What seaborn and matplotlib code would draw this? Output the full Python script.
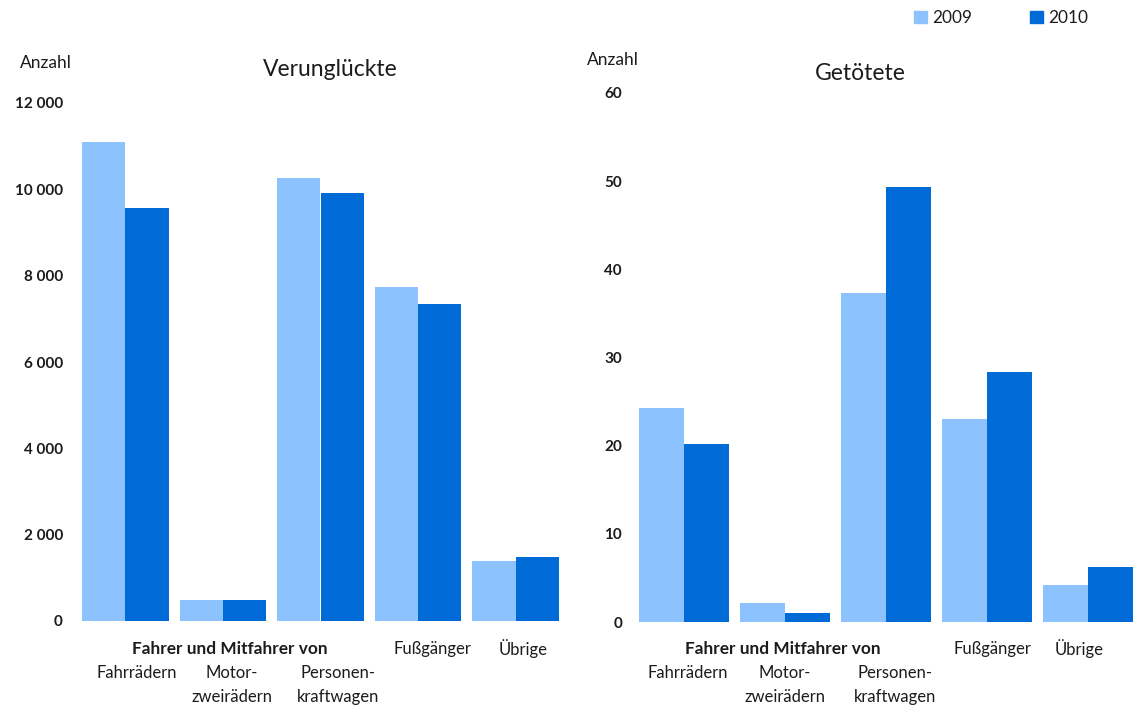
import pandas as pd
import seaborn as sns
import matplotlib.pyplot as plt
import matplotlib.transforms as mtransforms
from matplotlib.ticker import FuncFormatter

## chart values
categories = ["Fahrrädern", "Motorzweirädern", "Personenkraftwagen", "Fußgänger", "Übrige"]
years = ["2009", "2010"]
verunglueckte_2009 = [11100, 490, 10260, 7740, 1390]
verunglueckte_2010 = [9570, 490, 9910, 7340, 1480]
getoetete_2009 = [24.3, 2.1, 37.3, 23.0, 4.2]
getoetete_2010 = [20.2, 1.0, 49.3, 28.4, 6.2]


def long_form(v2009, v2010):
    df = pd.DataFrame({"Kategorie": categories, "2009": v2009, "2010": v2010})
    return df.melt(id_vars="Kategorie", var_name="Jahr", value_name="Anzahl")


verung_df = long_form(verunglueckte_2009, verunglueckte_2010)
getoet_df = long_form(getoetete_2009, getoetete_2010)

sns.set_theme(style="white")
plt.rcParams["font.family"] = ["Lato", "DejaVu Sans"]
palette = {"2009": "#8CC3FF", "2010": "#006AD7"}
txt = "#1c1c1c"

W, H = 1136, 708
fig = plt.figure(figsize=(W / 100, H / 100), dpi=100)


def px_axes(x0, x1, y_top, y_bot):
    return fig.add_axes([x0 / W, 1 - y_bot / H, (x1 - x0) / W, (y_bot - y_top) / H])


ax1 = px_axes(82, 559, 103, 621)
ax2 = px_axes(639, 1133, 93, 622)

# label x positions (group index + small shift) per panel
left_pos = {"head": 1.07, "fuss": 3.15, "ueb": 4.08, "rad": 0.12, "mot": 1.09, "pkw": 2.18}
right_pos = {"head": 0.98, "fuss": 3.05, "ueb": 3.91, "rad": 0.04, "mot": 1.0, "pkw": 2.09}

panels = [
    (ax1, verung_df, 12000, 2000, 19, "Verunglückte", 330, 70, 20, 63, left_pos),
    (ax2, getoet_df, 60, 10, 17, "Getötete", 860, 73, 587, 60, right_pos),
]

for ax, df, ymax, step, pad, title, tx, ty, ax_x, ax_y, lp in panels:
    sns.barplot(
        data=df, x="Kategorie", y="Anzahl", hue="Jahr", hue_order=years,
        palette=palette, width=0.89, gap=0, linewidth=0, saturation=1,
        ax=ax, legend=True,
    )
    ax.set_xlim(-0.445, 4.445)
    ax.set_ylim(0, ymax)
    ax.set_yticks(range(0, ymax + 1, step))
    ax.yaxis.set_major_formatter(FuncFormatter(lambda v, p: f"{v:,.0f}".replace(",", " ")))
    ax.tick_params(axis="y", length=0, pad=pad * 0.72, labelsize=11, labelcolor=txt)
    for lab in ax.get_yticklabels():
        lab.set_fontweight("bold")
    ax.set_xticks([])
    ax.set_xlabel("")
    ax.set_ylabel("")
    for s in ax.spines.values():
        s.set_visible(False)
    ax.get_legend().remove()

    fig.text(tx / W, 1 - ty / H, title, ha="center", va="center", fontsize=16.5, color=txt)
    fig.text(ax_x / W, 1 - ax_y / H, "Anzahl", ha="left", va="center", fontsize=12.5, color=txt)

    # category labels below the bars
    tr = mtransforms.blended_transform_factory(ax.transData, fig.transFigure)
    y1 = 1 - 649 / H
    y2 = 1 - 673 / H
    y3 = 1 - 697 / H
    kw = dict(transform=tr, ha="center", va="center", color=txt)
    ax.text(lp["head"], y1, "Fahrer und Mitfahrer von", fontsize=12.4, fontweight="bold", **kw)
    ax.text(lp["fuss"], y1, "Fußgänger", fontsize=12, **kw)
    ax.text(lp["ueb"], y1, "Übrige", fontsize=12, **kw)
    ax.text(lp["rad"], y2, "Fahrrädern", fontsize=12, **kw)
    ax.text(lp["mot"], y2, "Motor-", fontsize=12, **kw)
    ax.text(lp["mot"], y3, "zweirädern", fontsize=12, **kw)
    ax.text(lp["pkw"], y2, "Personen-", fontsize=12, **kw)
    ax.text(lp["pkw"], y3, "kraftwagen", fontsize=12, **kw)

handles = [plt.Rectangle((0, 0), 1, 1, color=palette[y]) for y in years]
fig.legend(
    handles, years, loc="center", bbox_to_anchor=(1001 / W, 1 - 18 / H), ncol=2,
    frameon=False, fontsize=12.4, handlelength=0.75, handleheight=0.75,
    handletextpad=0.3, columnspacing=3.4, labelcolor=txt,
)

fig.savefig("out.png", dpi=100)
